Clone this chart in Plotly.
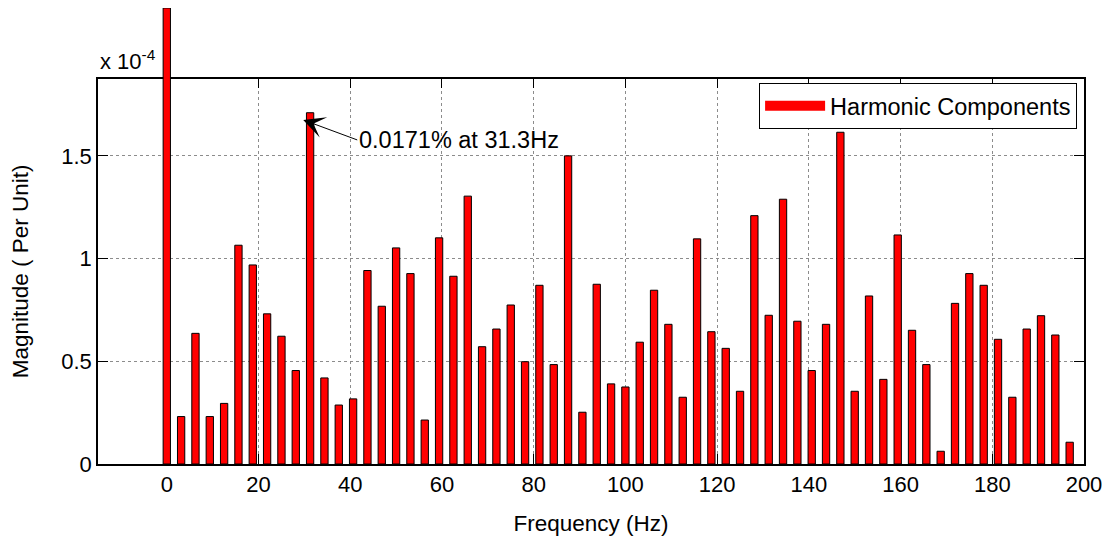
import plotly.graph_objects as go

# Frequencies of the harmonic components (Hz)
freq_hz = [0.0, 3.125, 6.25, 9.375, 12.5, 15.625, 18.75, 21.875,
           25.0, 28.125, 31.25, 34.375, 37.5, 40.625, 43.75, 46.875,
           50.0, 53.125, 56.25, 59.375, 62.5, 65.625, 68.75, 71.875,
           75.0, 78.125, 81.25, 84.375, 87.5, 90.625, 93.75, 96.875,
           100.0, 103.125, 106.25, 109.375, 112.5, 115.625, 118.75, 121.875,
           125.0, 128.125, 131.25, 134.375, 137.5, 140.625, 143.75, 146.875,
           150.0, 153.125, 156.25, 159.375, 162.5, 165.625, 168.75, 171.875,
           175.0, 178.125, 181.25, 184.375, 187.5, 190.625, 193.75, 196.875]

# Magnitude in units of 1e-4 per unit
magnitude_e4 = [2.22, 0.231, 0.636, 0.231, 0.295, 1.065, 0.969, 0.731,
                0.622, 0.455, 1.71, 0.419, 0.287, 0.317, 0.942, 0.768,
                1.052, 0.927, 0.214, 1.101, 0.914, 1.304, 0.571, 0.657,
                0.774, 0.498, 0.870, 0.484, 1.500, 0.252, 0.875, 0.390,
                0.375, 0.593, 0.846, 0.680, 0.325, 1.096, 0.644, 0.563,
                0.354, 1.209, 0.724, 1.289, 0.695, 0.455, 0.680, 1.615,
                0.354, 0.818, 0.412, 1.115, 0.651, 0.484, 0.062, 0.782,
                0.927, 0.870, 0.607, 0.325, 0.657, 0.722, 0.628, 0.106]

x_ticks = [0, 20, 40, 60, 80, 100, 120, 140, 160, 180, 200]
y_ticks = [0, 0.5, 1, 1.5]
y_tick_text = ["0", "0.5", "1", "1.5"]

peak_index = 10
peak_label = "0.0171% at 31.3Hz"
series_name = "Harmonic Components"

FONT = "Liberation Sans, Arial, Helvetica, sans-serif"
FS_TICK = 22
FS_TITLE = 22.5
FS_TEXT = 23.5

X_RANGE = [-15, 200]
Y_TOP = 1.876            # top of the axes box (x 1e-4)
Y_DOMAIN_TOP = 0.8451    # axes box height as fraction of plotting height
Y2_TOP = Y_TOP / Y_DOMAIN_TOP  # overflow area above the box, same scale

fig = go.Figure()
# Bars live on an invisible full-height subplot with the same scale,
# so the tallest bar can rise above the axes box as in the original.
fig.add_trace(go.Bar(
    x=freq_hz,
    y=magnitude_e4,
    name=series_name,
    xaxis="x2", yaxis="y2",
    marker=dict(color="#ff0000", line=dict(color="#000000", width=1)),
    showlegend=False,
))
# Legend entry only (wide red patch like the original legend)
fig.add_trace(go.Scatter(
    x=[None], y=[None], mode="lines", name=series_name,
    line=dict(color="#ff0000", width=22),
    showlegend=True,
))

fig.add_annotation(
    x=freq_hz[peak_index] - 1.5, y=magnitude_e4[peak_index] - 0.035,
    xref="x", yref="y",
    text=peak_label, showarrow=True,
    arrowhead=3, arrowsize=3.6, arrowwidth=1, arrowcolor="#000000",
    ax=54, ay=20, xanchor="left", yanchor="middle",
    font=dict(family=FONT, size=FS_TEXT, color="#000000"),
)

fig.add_annotation(
    x=0, y=1, xref="x domain", yref="y domain",
    xanchor="left", yanchor="bottom", yshift=3,
    text="x 10<sup>-4</sup>", showarrow=False,
    font=dict(family=FONT, size=FS_TICK, color="#000000"),
)

axis_common = dict(
    showline=True, linecolor="#000000", linewidth=1.5, mirror="ticks",
    ticks="inside", ticklen=10, tickwidth=1, tickcolor="#000000",
    showgrid=True, gridcolor="#8c8c8c", griddash="dot", gridwidth=1,
    zeroline=False,
    tickfont=dict(family=FONT, size=FS_TICK, color="#000000"),
)

fig.update_layout(
    width=1105, height=530,
    margin=dict(l=90, r=29, t=0, b=74),
    paper_bgcolor="white", plot_bgcolor="rgba(0,0,0,0)",
    bargap=0.49,
    font=dict(family=FONT, size=FS_TICK, color="#000000"),
    showlegend=True,
    legend=dict(
        x=0.993, y=0.8356, xanchor="right", yanchor="top",
        xref="paper", yref="paper",
        bgcolor="white", bordercolor="#000000", borderwidth=1,
        itemwidth=60,
        font=dict(family=FONT, size=FS_TEXT, color="#000000"),
    ),
    xaxis=dict(
        domain=[0, 1], anchor="y",
        range=X_RANGE, tickvals=x_ticks,
        title=dict(text="Frequency (Hz)", standoff=19,
                   font=dict(family=FONT, size=FS_TITLE, color="#000000")),
        **axis_common,
    ),
    yaxis=dict(
        domain=[0, Y_DOMAIN_TOP], anchor="x",
        range=[0, Y_TOP], tickvals=y_ticks, ticktext=y_tick_text,
        title=dict(text="Magnitude ( Per Unit)", standoff=26,
                   font=dict(family=FONT, size=FS_TITLE, color="#000000")),
        **axis_common,
    ),
    xaxis2=dict(domain=[0, 1], anchor="y2", range=X_RANGE, visible=False,
                showgrid=False, zeroline=False),
    yaxis2=dict(domain=[0, 1], anchor="x2", range=[0, Y2_TOP], visible=False,
                showgrid=False, zeroline=False),
)

fig.write_html("out.html")
